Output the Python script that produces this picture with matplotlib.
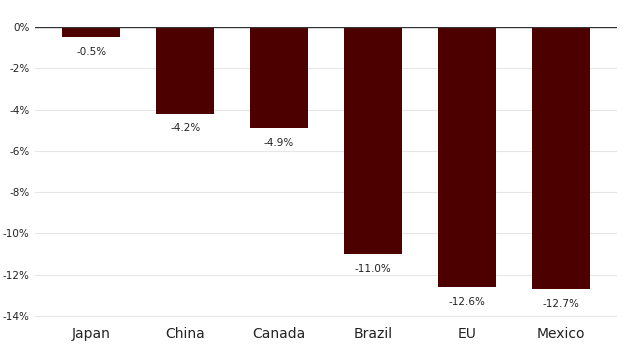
import matplotlib
matplotlib.use("Agg")
import matplotlib.pyplot as plt
import numpy as np

countries = ["Japan", "China", "Canada", "Brazil", "EU", "Mexico"]
changes = [-0.5, -4.2, -4.9, -11.0, -12.6, -12.7]
yticks = [0, -2, -4, -6, -8, -10, -12, -14]

fig = plt.figure(figsize=(6.24, 3.48), dpi=100)
ax = fig.add_axes([0.056, 0.080, 0.933, 0.842])

x = np.arange(len(countries))
ax.bar(x, changes, width=0.62, color="#4d0000", zorder=2)

for xi, v in zip(x, changes):
    ax.annotate(f"{v:.1f}%", (xi, v), xytext=(0, -10.5), textcoords="offset points",
                ha="center", va="center", fontsize=7.5, color="#222222")

ax.set_xlim(-0.6, len(countries) - 0.4)
ax.set_ylim(-14.2, 0)
ax.set_yticks(yticks)
ax.set_yticklabels([f"{t}%" for t in yticks], fontsize=7.5, color="#222222")
ax.set_xticks(x)
ax.set_xticklabels(countries, fontsize=10, color="#222222")
ax.tick_params(axis="both", length=0)
ax.tick_params(axis="x", pad=5)
ax.tick_params(axis="y", pad=4)
ax.grid(axis="y", color="#e6e6e6", linewidth=0.8, zorder=0)
for s in ax.spines.values():
    s.set_visible(False)
ax.axhline(0, color="#333333", linewidth=1.0, zorder=3)

fig.savefig("out.png", dpi=100)
